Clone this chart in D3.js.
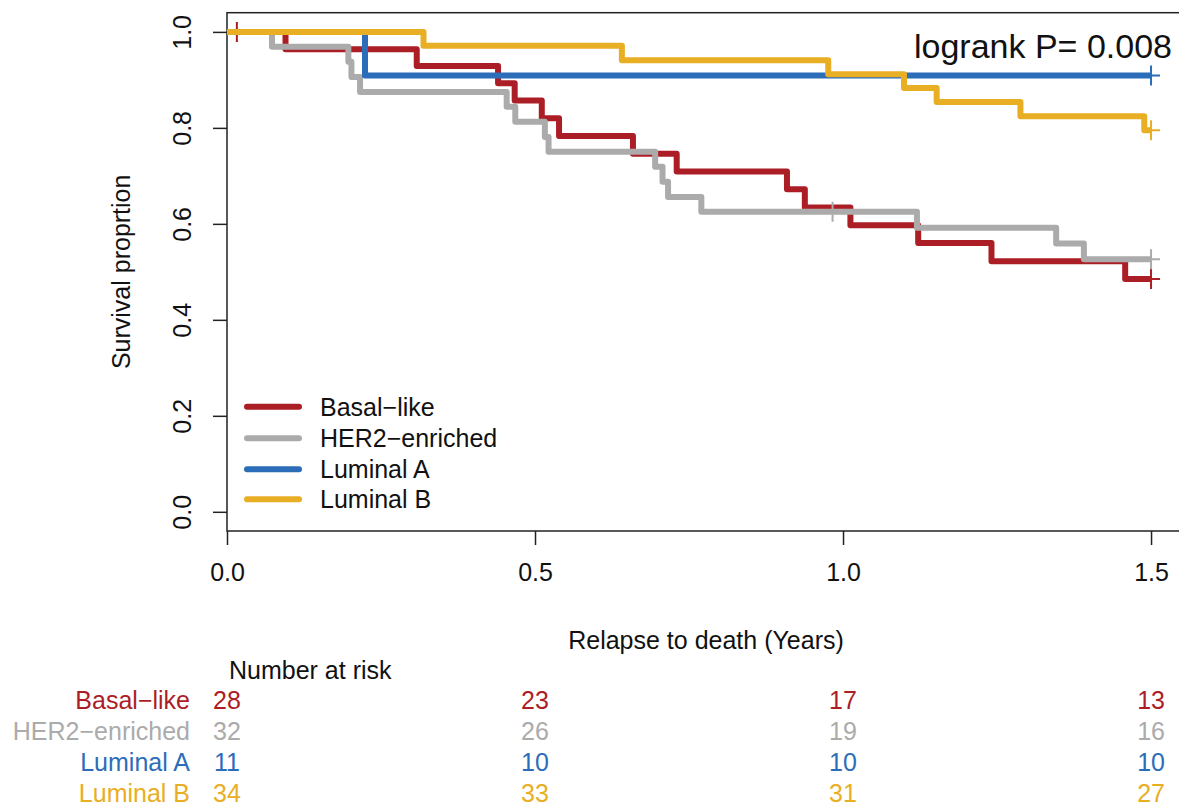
<!DOCTYPE html>
<html>
<head>
<meta charset="utf-8">
<script src="https://cdn.jsdelivr.net/npm/d3@7"></script>
<style>
  body { margin: 0; background: #fff; }
  svg text { font-family: "Liberation Sans", Arial, Helvetica, sans-serif; }
</style>
</head>
<body>
<svg id="chart" width="1179" height="807"></svg>
<script>
// groups, in the order R draws them
var groups = ['Basal\u2212like', 'HER2\u2212enriched', 'Luminal A', 'Luminal B'];
var colors = ['#AC1E26', '#ABABAB', '#2B6DB8', '#E8AE24'];

// step times (years) and survival after each step
var basalTimes = [0, 0.095, 0.308, 0.44, 0.467, 0.511, 0.539, 0.659, 0.73, 0.909, 0.938, 1.012, 1.122, 1.241, 1.458, 1.5];
var basalSurv  = [1, 0.964, 0.929, 0.893, 0.857, 0.820, 0.783, 0.746, 0.709, 0.672, 0.634, 0.597, 0.560, 0.522, 0.485, 0.485];
var basalCens  = [0.016, 1.5];

var her2Times = [0, 0.073, 0.197, 0.202, 0.216, 0.454, 0.468, 0.516, 0.522, 0.695, 0.707, 0.716, 0.770, 1.12, 1.346, 1.391, 1.5];
var her2Surv  = [1, 0.969, 0.938, 0.906, 0.875, 0.844, 0.813, 0.781, 0.750, 0.719, 0.688, 0.656, 0.625, 0.592, 0.559, 0.526, 0.526];
var her2Cens  = [0.983, 1.5];

var lumATimes = [0, 0.224, 1.5];
var lumASurv  = [1, 0.909, 0.909];
var lumACens  = [1.5];

var lumBTimes = [0, 0.319, 0.641, 0.976, 1.099, 1.152, 1.288, 1.489, 1.5];
var lumBSurv  = [1, 0.971, 0.941, 0.912, 0.883, 0.854, 0.824, 0.795, 0.795];
var lumBCens  = [1.5];

// number at risk
var riskTimes = [0, 0.5, 1.0, 1.5];
var riskBasal = [28, 23, 17, 13];
var riskHer2  = [32, 26, 19, 16];
var riskLumA  = [11, 10, 10, 10];
var riskLumB  = [34, 33, 31, 27];

var xTicks = [0, 0.5, 1.0, 1.5];
var yTicks = [0, 0.2, 0.4, 0.6, 0.8, 1.0];

var curves = [
	{ times: basalTimes, surv: basalSurv, cens: basalCens, risk: riskBasal },
	{ times: her2Times, surv: her2Surv, cens: her2Cens, risk: riskHer2 },
	{ times: lumATimes, surv: lumASurv, cens: lumACens, risk: riskLumA },
	{ times: lumBTimes, surv: lumBSurv, cens: lumBCens, risk: riskLumB }
];

var svg = d3.select('#chart');

var x = d3.scaleLinear().domain([0, 1.56]).range([227, 1188]);
var y = d3.scaleLinear().domain([-0.04, 1.04]).range([531, 12.7]);

// box
svg.append('rect')
	.attr('x', x(0))
	.attr('y', y(1.04))
	.attr('width', x(1.56) - x(0))
	.attr('height', y(-0.04) - y(1.04))
	.style('fill', 'none')
	.style('stroke', '#222')
	.style('stroke-width', 1.5);

// x axis
var xAxis = svg.append('g')
	.attr('transform', 'translate(0,' + y(-0.04) + ')')
	.call(d3.axisBottom(x).tickValues(xTicks).tickFormat(d3.format('.1f')).tickSize(14).tickPadding(18));
xAxis.select('.domain').remove();
xAxis.selectAll('line').style('stroke', '#222').style('stroke-width', 1.5);
xAxis.selectAll('text').style('font-size', '25px').style('fill', '#111');

// y axis
var yAxis = svg.append('g')
	.attr('transform', 'translate(' + x(0) + ',0)')
	.call(d3.axisLeft(y).tickValues(yTicks).tickFormat(d3.format('.1f')).tickSize(14));
yAxis.select('.domain').remove();
yAxis.selectAll('line').style('stroke', '#222').style('stroke-width', 1.5);
yAxis.selectAll('text')
	.attr('x', null).attr('dy', null)
	.attr('transform', 'translate(-36,0) rotate(-90)')
	.attr('text-anchor', 'middle')
	.style('font-size', '25px').style('fill', '#111');

// axis titles
svg.append('text')
	.attr('x', 706).attr('y', 649)
	.attr('text-anchor', 'middle')
	.style('font-size', '25px').style('fill', '#111')
	.text('Relapse to death (Years)');

svg.append('text')
	.attr('transform', 'translate(130,' + y(0.5) + ') rotate(-90)')
	.attr('text-anchor', 'middle')
	.style('font-size', '25px').style('fill', '#111')
	.text('Survival proprtion');

// curves
var line = d3.line()
	.x(function (d) { return x(d[0]); })
	.y(function (d) { return y(d[1]); })
	.curve(d3.curveStepAfter);

function survAt (c, t) {
	var s = 1;
	c.times.forEach(function (tt, i) { if (tt <= t) s = c.surv[i]; });
	return s;
}

curves.forEach(function (c, i) {
	var pts = c.times.map(function (t, j) { return [t, c.surv[j]]; });
	svg.append('path')
		.datum(pts)
		.attr('d', line)
		.style('fill', 'none')
		.style('stroke', colors[i])
		.style('stroke-width', 6)
		.style('stroke-linejoin', 'round');

	c.cens.forEach(function (t) {
		var cx = x(t), cy = y(survAt(c, t));
		svg.append('path')
			.attr('d', 'M' + (cx - 9) + ',' + cy + 'H' + (cx + 9) + 'M' + cx + ',' + (cy - 10) + 'V' + (cy + 10))
			.style('stroke', colors[i])
			.style('stroke-width', 2);
	});
});

// legend
var legendY = [406.7, 438.3, 469.3, 499.3];
groups.forEach(function (g, i) {
	svg.append('line')
		.attr('x1', 247).attr('x2', 299)
		.attr('y1', legendY[i]).attr('y2', legendY[i])
		.style('stroke', colors[i])
		.style('stroke-width', 6)
		.style('stroke-linecap', 'round');
	svg.append('text')
		.attr('x', 320).attr('y', legendY[i] + 9)
		.style('font-size', '25px').style('fill', '#111')
		.text(g);
});

// logrank
svg.append('text')
	.attr('x', 1172).attr('y', 58)
	.attr('text-anchor', 'end')
	.style('font-size', '34px').style('fill', '#111')
	.text('logrank P= 0.008');

// number at risk table
svg.append('text')
	.attr('x', 229).attr('y', 679)
	.style('font-size', '25px').style('fill', '#111')
	.text('Number at risk');

var rowY = [709, 740, 771, 802];
curves.forEach(function (c, i) {
	svg.append('text')
		.attr('x', 190).attr('y', rowY[i])
		.attr('text-anchor', 'end')
		.style('font-size', '25px').style('fill', colors[i])
		.text(groups[i]);
	c.risk.forEach(function (n, j) {
		svg.append('text')
			.attr('x', x(riskTimes[j])).attr('y', rowY[i])
			.attr('text-anchor', 'middle')
			.style('font-size', '25px').style('fill', colors[i])
			.text(n);
	});
});
</script>
</body>
</html>
